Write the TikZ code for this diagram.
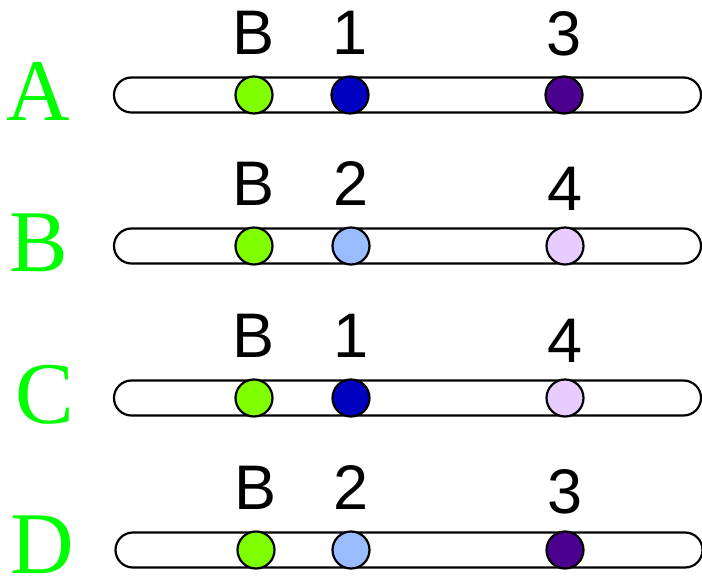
\documentclass[tikz,border=0pt]{standalone}
\usepackage{fontspec}
\setmainfont{Liberation Serif}
\setsansfont{Liberation Sans}
\usetikzlibrary{shapes.misc,positioning}

\definecolor{lime}{HTML}{80FF00}
\definecolor{navy}{HTML}{0000C0}
\definecolor{indigo}{HTML}{4B0090}
\definecolor{sky}{HTML}{99BBFF}
\definecolor{lilac}{HTML}{E6CCFF}
\definecolor{rowgreen}{HTML}{00FF00}

\begin{document}
\begin{tikzpicture}[
                    x=1pt, y=-1pt,
                    chrom/.style={draw, rounded rectangle, line width=2.2pt, minimum width=587pt, minimum height=35pt, inner sep=0pt},
                    allele/.style={draw, circle, line width=2.2pt, minimum size=37pt, inner sep=0pt},
                    tag/.style={inner sep=0pt, font=\sffamily\fontsize{63}{63}\selectfont},
                    rowname/.style={anchor=base, inner sep=0pt, text=rowgreen, font=\rmfamily\fontsize{88}{88}\selectfont},
                    node distance=21pt
                ]
                    \useasboundingbox (0,0) rectangle (702,577);

                    % row A
                    \node[rowname] (nameA) at (38,121) {A};
                    \node[chrom] (chrA) at (407.5,95) {};
                    \node[allele, fill=lime] (aB) at (254,95) {};
                    \node[allele, fill=navy] (a1) at (350,95) {};
                    \node[allele, fill=indigo] (a3) at (564,95) {};
                    \node[tag, above=of aB] (taB) {B};
                    \node[tag, above=of a1] (ta1) {1};
                    \node[tag, above=19pt of a3] (ta3) {3};

                    % row B
                    \node[rowname] (nameB) at (39,272) {B};
                    \node[chrom] (chrB) at (407.5,246) {};
                    \node[allele, fill=lime] (bB) at (254,246) {};
                    \node[allele, fill=sky] (b2) at (351,246) {};
                    \node[allele, fill=lilac] (b4) at (565,246) {};
                    \node[tag, above=of bB] (tbB) {B};
                    \node[tag, above=of b2] (tb2) {2};
                    \node[tag, above=16pt of b4] (tb4) {4};

                    % row C
                    \node[rowname] (nameC) at (45,424) {C};
                    \node[chrom] (chrC) at (407.5,398) {};
                    \node[allele, fill=lime] (cB) at (254,398) {};
                    \node[allele, fill=navy] (c1) at (351,398) {};
                    \node[allele, fill=lilac] (c4) at (565,398) {};
                    \node[tag, above=of cB] (tcB) {B};
                    \node[tag, above=of c1] (tc1) {1};
                    \node[tag, above=16pt of c4] (tc4) {4};

                    % row D
                    \node[rowname] (nameD) at (42,573) {D};
                    \node[chrom] (chrD) at (409,550) {};
                    \node[allele, fill=lime] (dB) at (256,550) {};
                    \node[allele, fill=sky] (d2) at (351,550) {};
                    \node[allele, fill=indigo] (d3) at (565,550) {};
                    \node[tag, above=of dB] (tdB) {B};
                    \node[tag, above=of d2] (td2) {2};
                    \node[tag, above=16pt of d3] (td3) {3};
                \end{tikzpicture}
\end{document}
